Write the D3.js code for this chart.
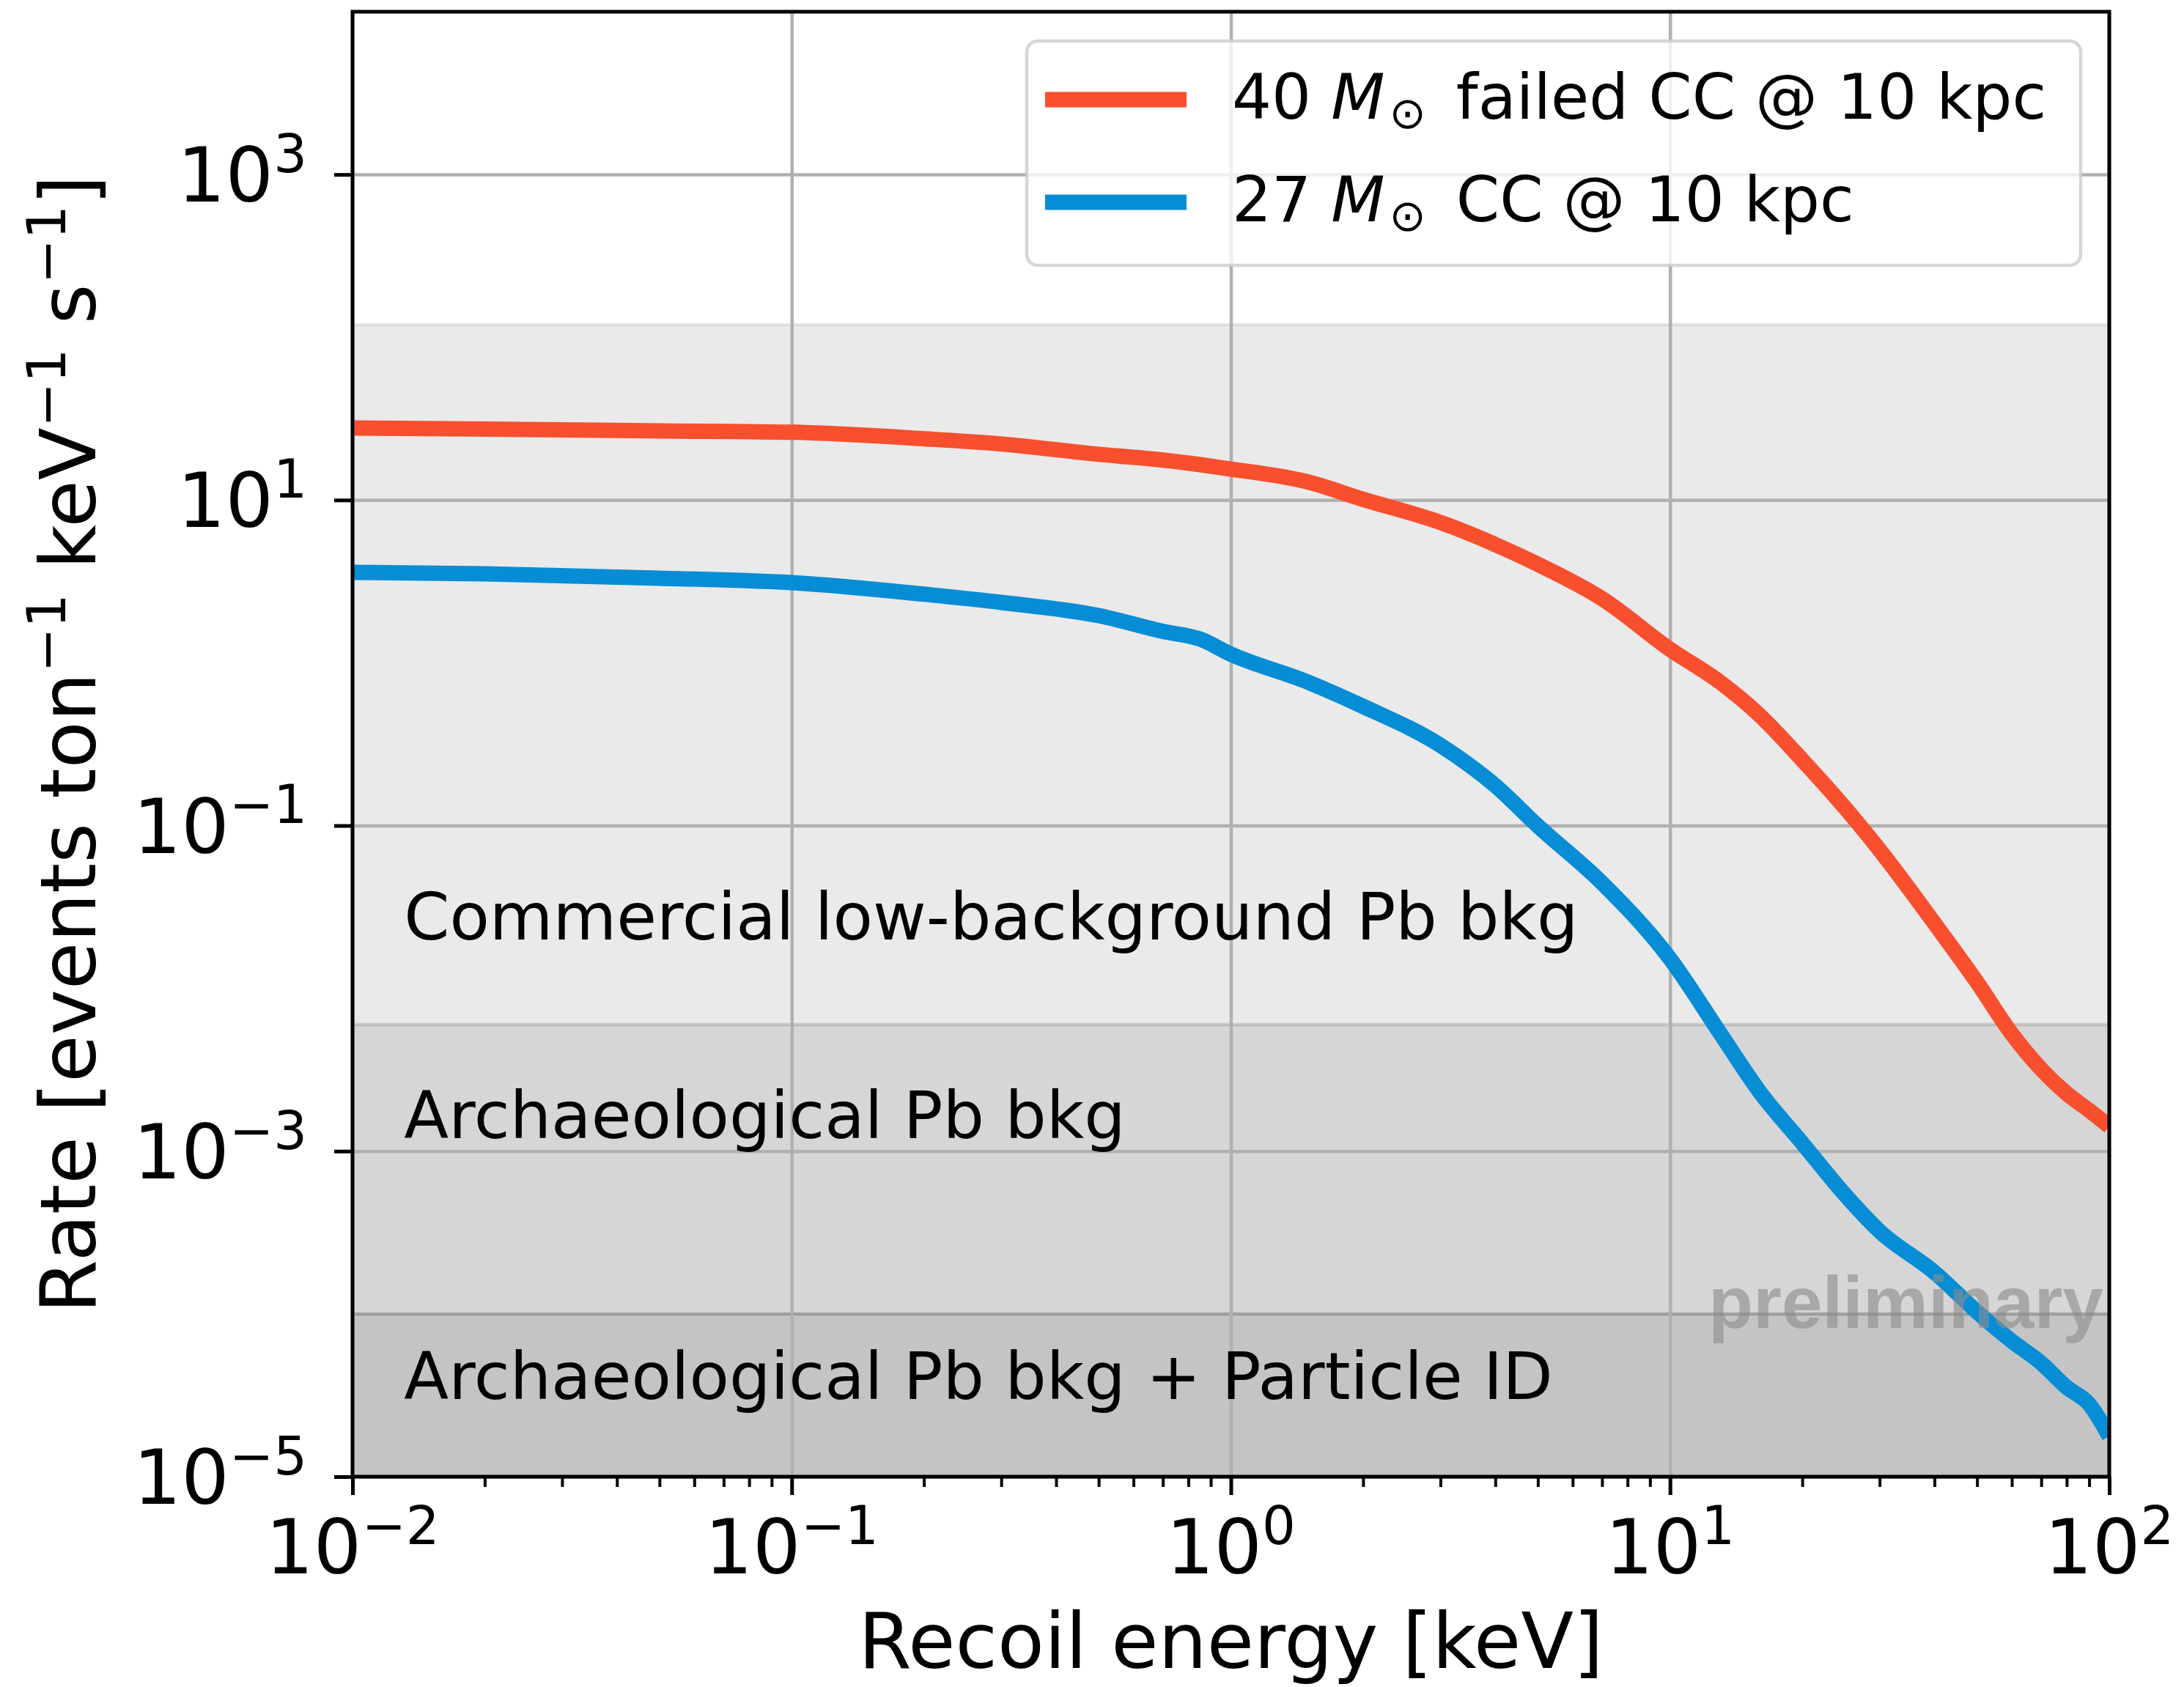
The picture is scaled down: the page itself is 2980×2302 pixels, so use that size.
<!DOCTYPE html>
<html>
<head>
<meta charset="utf-8">
<script src="https://cdn.jsdelivr.net/npm/d3@7"></script>
<style>
  body { margin: 0; background: #fff; }
  svg text { font-family: "DejaVu Sans", sans-serif; white-space: pre; }
</style>
</head>
<body>
<svg width="2980" height="2302"></svg>
<script>
// Recoil spectra (keV, events / ton / keV / s)
var energy = [0.01, 0.02, 0.05, 0.1, 0.2, 0.3, 0.5, 0.7, 0.85, 1, 1.5, 2, 3, 4, 5, 7,
              10, 13, 16, 20, 25, 30, 40, 50, 60, 70, 80, 90, 100];
var rateFailed = [27.7, 27.3, 26.6, 26.1, 23.8, 22.1, 19.1, 17.6, 16.5, 15.5, 12.9, 10.1, 7.28, 5.33, 4.03, 2.48,
                  1.21, 0.76, 0.476, 0.253, 0.129, 0.0708, 0.0251, 0.0109, 0.00525, 0.00319, 0.00226, 0.00178, 0.00142];
var rateCC = [3.60, 3.52, 3.31, 3.11, 2.64, 2.35, 1.95, 1.56, 1.40, 1.13, 0.76, 0.54, 0.311, 0.176, 0.0995, 0.0444,
              0.0152, 0.0053, 0.00231, 0.00112, 5.41e-4, 3.22e-4, 1.80e-4, 1.03e-4, 6.81e-5, 4.99e-5, 3.54e-5, 2.79e-5, 1.77e-5];

var seriesColors = ["#f84f2e", "#078dd5"];

// background levels
var bandTops = [120, 6e-3, 1e-4];
var bandNames = ["Commercial low-background Pb bkg", "Archaeological Pb bkg", "Archaeological Pb bkg + Particle ID"];
var bandLabelX = [0.0131, 0.0131, 0.0131];
var bandLabelY = [2.0e-2, 1.2e-3, 3.0e-5];

var xTicks = [1e-2, 1e-1, 1, 10, 100];
var yTicks = [1e-5, 1e-3, 1e-1, 10, 1e3];

// Canvas
var svg = d3.select("svg"),
    margin = {top: 16, right: 102, bottom: 287, left: 481},
    width = +svg.attr("width") - margin.left - margin.right,
    height = +svg.attr("height") - margin.top - margin.bottom;

var x = d3.scaleLog().domain([1e-2, 1e2]).range([0, width]),
    y = d3.scaleLog().domain([1e-5, 1e4]).range([height, 0]);

var g = svg.append("g")
    .attr("transform", "translate(" + margin.left + "," + margin.top + ")");

g.append("clipPath").attr("id", "plotclip")
  .append("rect").attr("width", width).attr("height", height);

// shaded background bands (overlapping, semi transparent)
var bands = g.append("g");
var edgeOpacity = [0.07, 0.13, 0.22];
bandTops.forEach(function(top, i) {
  bands.append("rect")
      .attr("x", 0).attr("width", width)
      .attr("y", y(top)).attr("height", height - y(top))
      .attr("fill", "#000").attr("fill-opacity", 0.083);
  bands.append("line")
      .attr("x1", 0).attr("x2", width)
      .attr("y1", y(top)).attr("y2", y(top))
      .attr("stroke", "#000").attr("stroke-opacity", edgeOpacity[i]).attr("stroke-width", 4.5);
});

// grid
g.append("g")
    .attr("class", "grid")
    .call(d3.axisBottom(x).tickValues(xTicks).tickSize(height).tickFormat(""))
    .call(function(s) { s.select(".domain").remove(); });
g.append("g")
    .attr("class", "grid")
    .call(d3.axisLeft(y).tickValues(yTicks).tickSize(-width).tickFormat(""))
    .call(function(s) { s.select(".domain").remove(); });
g.selectAll(".grid line").attr("stroke", "#b0b0b0").attr("stroke-width", 4.5);

// band labels
bandNames.forEach(function(name, i) {
  g.append("text")
      .attr("x", x(bandLabelX[i]))
      .attr("y", y(bandLabelY[i]))
      .attr("font-size", 89)
      .attr("fill", "#000")
      .text(name);
});

// curves
var line = d3.line()
    .curve(d3.curveMonotoneX)
    .x(function(d) { return x(d[0]); })
    .y(function(d) { return y(d[1]); });

[rateFailed, rateCC].forEach(function(rates, i) {
  g.append("path")
      .datum(d3.zip(energy, rates))
      .attr("clip-path", "url(#plotclip)")
      .attr("fill", "none")
      .attr("stroke", seriesColors[i])
      .attr("stroke-width", 21)
      .attr("stroke-linejoin", "round")
      .attr("d", line);
});

// watermark
g.append("text")
    .attr("x", width - 8)
    .attr("y", height - 203)
    .attr("text-anchor", "end")
    .style("font-family", "'Liberation Sans', Arial, sans-serif")
    .attr("font-weight", "bold")
    .attr("font-size", 100)
    .attr("fill", "#8c8c8c")
    .attr("fill-opacity", 0.62)
    .text("preliminary");

// power-of-ten label
function powLabel(sel, d, size) {
  var e = Math.round(Math.log10(d));
  sel.append("tspan").text("10");
  sel.append("tspan").attr("dy", -0.39 * size).attr("font-size", size * 0.7)
      .text(e < 0 ? "\u2212" + (-e) : "" + e);
}

// x axis
var minorX = [];
xTicks.slice(0, -1).forEach(function(t) { for (var k = 2; k < 10; k++) minorX.push(t * k); });

var xAxis = g.append("g").attr("transform", "translate(0," + height + ")");
xAxis.append("g").call(d3.axisBottom(x).tickValues(minorX).tickSize(14).tickFormat(""))
    .call(function(s) { s.select(".domain").remove(); s.selectAll("line").attr("stroke-width", 4); });
xAxis.append("g").call(d3.axisBottom(x).tickValues(xTicks).tickSize(25).tickFormat(""))
    .call(function(s) { s.select(".domain").remove(); s.selectAll("line").attr("stroke-width", 5); });
xTicks.forEach(function(t) {
  var lab = xAxis.append("text")
      .attr("x", x(t)).attr("y", 132)
      .attr("text-anchor", "middle")
      .attr("font-size", 103).attr("fill", "#000");
  powLabel(lab, t, 103);
});

// y axis
var yAxis = g.append("g");
yAxis.call(d3.axisLeft(y).tickValues(yTicks).tickSize(25).tickFormat(""))
    .call(function(s) { s.select(".domain").remove(); s.selectAll("line").attr("stroke-width", 5); });
yTicks.forEach(function(t) {
  var lab = yAxis.append("text")
      .attr("x", -62).attr("y", y(t) + 37)
      .attr("text-anchor", "end")
      .attr("font-size", 103).attr("fill", "#000");
  powLabel(lab, t, 103);
});

// frame
g.append("rect")
    .attr("width", width).attr("height", height)
    .attr("fill", "none").attr("stroke", "#000").attr("stroke-width", 5);

// axis titles
g.append("text")
    .attr("x", width / 2).attr("y", 2276 - margin.top)
    .attr("text-anchor", "middle")
    .attr("font-size", 104.5)
    .text("Recoil energy [keV]");

var yl = svg.append("text")
    .attr("transform", "translate(130," + (margin.top + height / 2) + ") rotate(-90)")
    .attr("text-anchor", "middle")
    .attr("font-size", 105);
yl.append("tspan").text("Rate [events ton");
yl.append("tspan").attr("dy", -41).attr("font-size", 73).text("\u22121");
yl.append("tspan").attr("dy", 41).text(" keV");
yl.append("tspan").attr("dy", -41).attr("font-size", 73).text("\u22121");
yl.append("tspan").attr("dy", 41).text(" s");
yl.append("tspan").attr("dy", -41).attr("font-size", 73).text("\u22121");
yl.append("tspan").attr("dy", 41).text("]");

// legend
var legend = svg.append("g");
legend.append("rect")
    .attr("x", 1401).attr("y", 56).attr("width", 1438).attr("height", 306)
    .attr("rx", 15)
    .attr("fill", "#fff").attr("fill-opacity", 0.8)
    .attr("stroke", "#cccccc").attr("stroke-opacity", 0.8).attr("stroke-width", 4.5);

var legendRows = [
  {pre: "40 ", post: " failed CC @ 10 kpc"},
  {pre: "27 ", post: " CC @ 10 kpc"}
];
legendRows.forEach(function(r, i) {
  var cy = 136 + i * 140;
  legend.append("line")
      .attr("x1", 1426).attr("x2", 1619).attr("y1", cy).attr("y2", cy)
      .attr("stroke", seriesColors[i]).attr("stroke-width", 21);
  var t = legend.append("text")
      .attr("x", 1681).attr("y", cy + 26)
      .attr("font-size", 85).attr("fill", "#000");
  t.append("tspan").text(r.pre);
  t.append("tspan").attr("font-style", "italic").text("M");
  t.append("tspan").attr("dy", 13).attr("dx", 6).attr("font-size", 60).text("\u2299");
  t.append("tspan").attr("dy", -13).attr("dx", 14).text(r.post);
});
</script>
</body>
</html>
